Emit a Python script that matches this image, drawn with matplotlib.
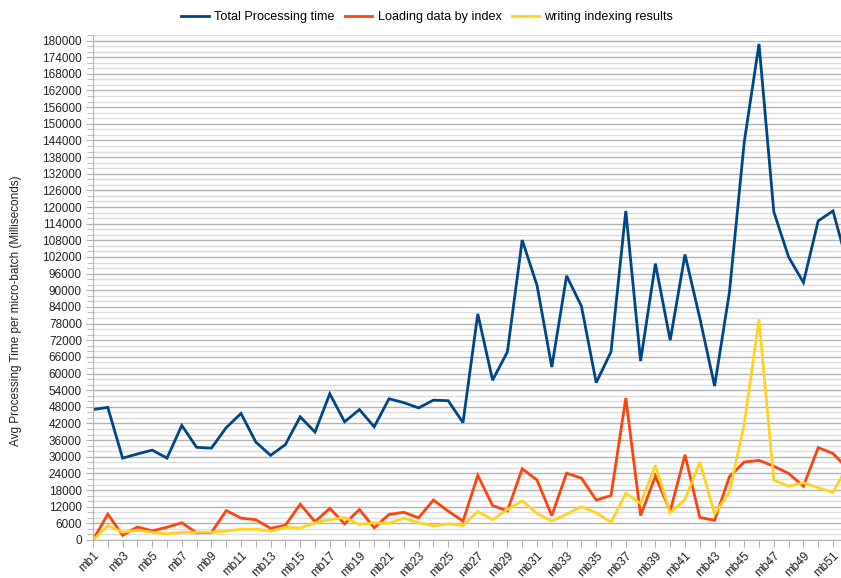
import numpy as np
import matplotlib
matplotlib.use("Agg")
import matplotlib.pyplot as plt
from matplotlib.ticker import MultipleLocator

plt.rcParams['font.family'] = ['Liberation Sans', 'DejaVu Sans']

# micro-batch labels
batches = [f"mb{i}" for i in range(1, 53)]

# Avg processing time per micro-batch (ms)
total_processing = [
    47000, 47800, 29500, 31000, 32400, 29500, 41300, 33400, 33100, 40500,
    45600, 35300, 30500, 34400, 44400, 38900, 52700, 42600, 47000, 40800,
    50900, 49500, 47600, 50400, 50200, 42300, 81500, 57600, 67800, 108100,
    91800, 62300, 95200, 84300, 56700, 67800, 118600, 64500, 99600, 72000,
    102900, 80000, 55500, 89200, 143300, 178800, 118300, 102000, 92800, 115000,
    118600, 99000,
]
loading_by_index = [
    0, 9300, 1700, 4700, 3300, 4600, 6200, 2600, 2700, 10600,
    7900, 7300, 4200, 5300, 12900, 6600, 11400, 5800, 11000, 4400,
    9200, 10000, 8000, 14400, 10400, 6800, 23300, 12400, 10500, 25700,
    21600, 8800, 24100, 22300, 14400, 16000, 51200, 8800, 23000, 10400,
    30700, 8100, 7100, 22800, 28100, 28700, 26600, 24000, 19400, 33300,
    31200, 25700,
]
writing_results = [
    0, 5200, 2800, 3500, 2800, 2200, 2800, 2800, 2800, 3200,
    3900, 3900, 3200, 4600, 4300, 6200, 7300, 8100, 5600, 6200,
    6000, 7900, 6200, 5100, 5800, 5200, 10300, 7300, 11000, 14100,
    9600, 6800, 9300, 12000, 9800, 6400, 16800, 13200, 26900, 9800,
    14600, 28100, 9400, 17200, 41700, 79500, 21500, 19400, 20600, 18800,
    17200, 26900,
]

series = [
    ("Total Processing time", total_processing, "#004586"),
    ("Loading data by index", loading_by_index, "#ff420e"),
    ("writing indexing results", writing_results, "#ffd320"),
]

fig = plt.figure(figsize=(8.41, 5.78), dpi=100)
ax = fig.add_axes([93 / 841, 38 / 578, 1 - 93 / 841, (540 - 35) / 578])

x = np.arange(1, len(batches) + 1)
for name, vals, color in series:
    ax.plot(x, vals, color=color, lw=2.0, label=name, solid_joinstyle='miter')

# x ticks: every batch, labels on odd ones
ax.set_xticks(x)
ax.set_xticklabels([b if i % 2 == 0 else "" for i, b in enumerate(batches)],
                   rotation=45, ha='right', rotation_mode='anchor')
ax.tick_params(axis='x', direction='out', length=5, color='#b3b3b3',
               labelsize=8.5, labelcolor='#222222', pad=2)

# limits after the ticks (set_xticks widens the view otherwise);
# the right edge of the picture cuts the plot just past mb51
ax.set_xlim(1, 1 + (841 - 93) / 14.8)
ax.set_ylim(0, 182000)

# y ticks / grid
ax.yaxis.set_major_locator(MultipleLocator(6000))
ax.yaxis.set_minor_locator(MultipleLocator(2000))
ax.grid(which='major', axis='y', color='#b3b3b3', lw=1.0)
ax.grid(which='minor', axis='y', color='#dddddd', lw=1.0)
ax.set_axisbelow(True)
ax.tick_params(axis='y', which='both', direction='out', color='#b3b3b3',
               labelsize=8.5, labelcolor='#222222', pad=3)
ax.tick_params(axis='y', which='major', length=5)
ax.tick_params(axis='y', which='minor', length=4)

for s in ['top', 'right']:
    ax.spines[s].set_visible(False)
for s in ['left', 'bottom']:
    ax.spines[s].set_color('#b3b3b3')

ax.set_ylabel("Avg Processing Time per micro-batch (Milliseconds)",
              fontsize=8.5, color='#222222')
ax.yaxis.set_label_coords(-0.095, 0.455)

fig.legend(loc='upper center', bbox_to_anchor=(0.508, 1.0), ncol=3,
           frameon=False, fontsize=9.1, handlelength=2.2, columnspacing=0.8,
           handletextpad=0.4)

fig.savefig("out.png", dpi=100)
